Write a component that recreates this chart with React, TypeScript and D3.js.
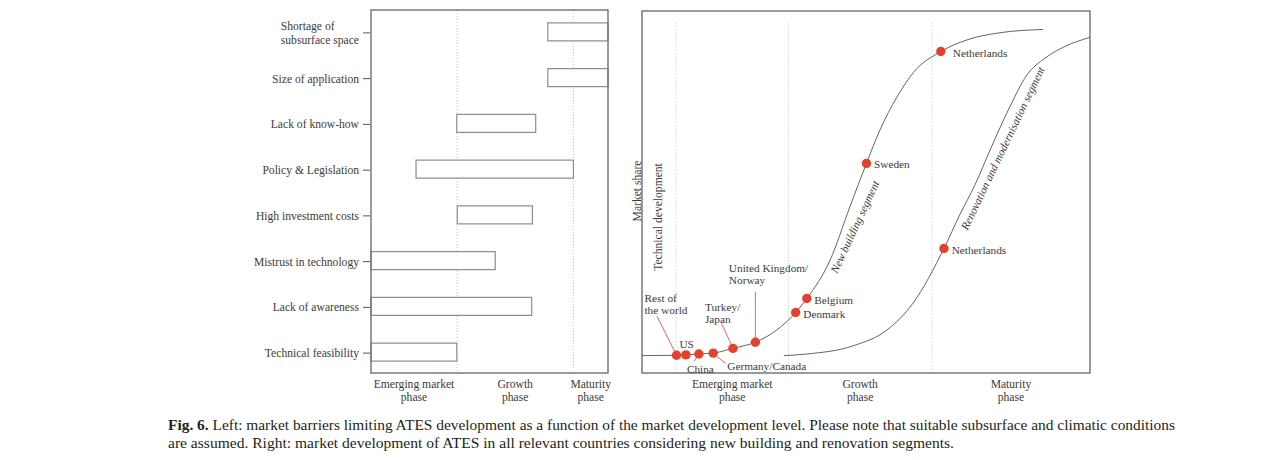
import { useEffect, useRef } from 'react';
import * as d3 from 'd3';

// Left panel: market barriers over the market development level (0-100)
const barriers = [
    'Shortage of\nsubsurface space',
    'Size of application',
    'Lack of know-how',
    'Policy & Legislation',
    'High investment costs',
    'Mistrust in technology',
    'Lack of awareness',
    'Technical feasibility'
];
const barrierFrom = [74.6, 74.6, 36.2, 19.0, 36.4, 0, 0, 0];
const barrierTo = [100, 100, 69.5, 85.4, 68.1, 52.4, 67.8, 36.2];

const barrierPhaseEdges = [0, 36.3, 85.4, 100];
const phaseNames = ['Emerging market\nphase', 'Growth\nphase', 'Maturity\nphase'];

// Right panel: market share over market development (0-100)
// technical development runs up to the first edge
const marketPhaseEdges = [7.6, 32.7, 64.7, 100];

const newBuildingX = [0, 7.7, 9.8, 12.7, 15.9, 20.3, 25.3, 30.1, 34.3, 36.8, 42.0, 46.4, 50.1, 53.1, 56.9, 60.5, 66.7, 72.5, 79.9, 89.5];
const newBuildingY = [4.8, 4.9, 5.0, 5.25, 5.5, 6.8, 8.5, 11.9, 16.7, 20.6, 31.2, 45.9, 57.9, 67.1, 76.2, 82.9, 88.8, 92.0, 94.0, 94.9];

const renovationX = [31.7, 36.8, 47.1, 54.7, 60.5, 67.4, 71.0, 74.3, 77.7, 82.1, 85.9, 90.0, 94.4, 100];
const renovationY = [4.8, 5.25, 7.5, 11.9, 19.3, 34.4, 43.9, 51.9, 61.6, 73.5, 82.3, 87.0, 90.2, 92.7];

const countries = [
    'Rest of\nthe world', 'US', 'China', 'Germany/Canada', 'Turkey/\nJapan',
    'United Kingdom/\nNorway', 'Denmark', 'Belgium', 'Sweden', 'Netherlands', 'Netherlands'
];
const countryX = [7.7, 9.8, 12.7, 15.9, 20.3, 25.3, 34.3, 36.8, 50.1, 66.7, 67.4];
const countryY = [4.9, 5.0, 5.25, 5.5, 6.8, 8.5, 16.7, 20.6, 57.9, 88.8, 34.4];

const captionLines = [
    'Left: market barriers limiting ATES development as a function of the market development level. Please note that suitable subsurface and climatic conditions',
    'are assumed. Right: market development of ATES in all relevant countries considering new building and renovation segments.'
];

export default function App() {
    const svgRef = useRef<SVGSVGElement>(null);

    useEffect(() => {
        if (!svgRef.current) return;
        const svg = d3.select(svgRef.current);
        svg.selectAll('*').remove();

        const serif = '"Liberation Serif", "Times New Roman", serif';
        const ink = '#3b3b3b';
        const frame = '#707070';
        const dotted = '#c4c4c4';
        const red = '#e2412d';
        const fs = 11.6;

        svg.append('rect').attr('width', 1264).attr('height', 460).attr('fill', '#fff');

        // writes "\n"-separated lines centred around y
        const multiline = (sel: any, text: string, x: number, y: number, lh: number) => {
            const lines = text.split('\n');
            lines.forEach((line, i) => {
                sel.append('tspan')
                    .attr('x', x)
                    .attr('y', y + (i - (lines.length - 1) / 2) * lh)
                    .text(line);
            });
            return sel;
        };

        // ---------- left panel ----------
        const lx = d3.scaleLinear().domain([0, 100]).range([371, 608]);
        const ly = d3.scaleBand<string>()
            .domain(barriers)
            .range([9, 375])
            .paddingInner(0.6066)
            .paddingOuter(0.3033);

        const left = svg.append('g');

        left.selectAll('.phase-line')
            .data(barrierPhaseEdges.slice(1, -1))
            .enter()
            .append('line')
            .attr('x1', d => lx(d)).attr('x2', d => lx(d))
            .attr('y1', 10).attr('y2', 373)
            .attr('stroke', dotted)
            .attr('stroke-dasharray', '1,2');

        left.selectAll('.bar')
            .data(barriers)
            .enter()
            .append('rect')
            .attr('x', (_, i) => lx(barrierFrom[i]))
            .attr('y', d => ly(d) || 0)
            .attr('width', (_, i) => lx(barrierTo[i]) - lx(barrierFrom[i]))
            .attr('height', ly.bandwidth())
            .attr('fill', '#fff')
            .attr('stroke', '#8c8c8c')
            .attr('stroke-width', 1.2);

        left.append('rect')
            .attr('x', 371).attr('y', 10)
            .attr('width', 237).attr('height', 363)
            .attr('fill', 'none')
            .attr('stroke', frame)
            .attr('stroke-width', 1.4);

        barriers.forEach(name => {
            const cy = (ly(name) || 0) + ly.bandwidth() / 2 + 1;
            left.append('line')
                .attr('x1', 363).attr('x2', 370)
                .attr('y1', cy).attr('y2', cy)
                .attr('stroke', '#555');
            const t = left.append('text')
                .attr('font-family', serif)
                .attr('font-size', fs)
                .attr('fill', ink)
                .attr('text-anchor', 'end')
                .attr('dominant-baseline', 'central');
            multiline(t, name, 359, cy, 13.5);
            const spans = t.selectAll('tspan').nodes() as SVGTSpanElement[];
            if (spans.length > 1) {
                const widest = d3.max(spans, s => s.getComputedTextLength()) || 0;
                t.attr('text-anchor', 'start');
                t.selectAll('tspan').attr('x', 359 - widest);
            }
        });

        phaseNames.forEach((name, i) => {
            const cx = lx((barrierPhaseEdges[i] + barrierPhaseEdges[i + 1]) / 2);
            const t = left.append('text')
                .attr('font-family', serif)
                .attr('font-size', fs)
                .attr('fill', ink)
                .attr('text-anchor', 'middle')
                .attr('dominant-baseline', 'central');
            multiline(t, name, cx, 390.5, 13);
        });

        // ---------- right panel ----------
        const rx = d3.scaleLinear().domain([0, 100]).range([642, 1090]);
        const ry = d3.scaleLinear().domain([0, 100]).range([373, 11]);

        const right = svg.append('g');

        right.selectAll('.phase-line')
            .data(marketPhaseEdges.slice(0, -1))
            .enter()
            .append('line')
            .attr('x1', d => rx(d)).attr('x2', d => rx(d))
            .attr('y1', ry(96.6)).attr('y2', 373)
            .attr('stroke', dotted)
            .attr('stroke-dasharray', '1,2');

        const line = d3.line<[number, number]>()
            .x(d => rx(d[0]))
            .y(d => ry(d[1]))
            .curve(d3.curveMonotoneX);

        right.append('path')
            .attr('d', line(newBuildingX.map((x, i) => [x, newBuildingY[i]]) as [number, number][]))
            .attr('fill', 'none')
            .attr('stroke', '#646464')
            .attr('stroke-width', 1);

        right.append('path')
            .attr('d', line(renovationX.map((x, i) => [x, renovationY[i]]) as [number, number][]))
            .attr('fill', 'none')
            .attr('stroke', '#646464')
            .attr('stroke-width', 1);

        right.append('rect')
            .attr('x', 642).attr('y', 11)
            .attr('width', 448).attr('height', 362)
            .attr('fill', 'none')
            .attr('stroke', frame)
            .attr('stroke-width', 1.4);

        // label placement around each dot, in px: text start, first-line centre, optional leader
        const placement: { dx: number; dy: number; leader?: [number, number, number, number] }[] = [
            { dx: -32, dy: -57.5, leader: [-19.5, -39, -1.5, -3] },
            { dx: -6.5, dy: -11 },
            { dx: -12, dy: 15, leader: [-1.5, 2.5, -5, 7.5] },
            { dx: 14, dy: 13, leader: [2, 2, 12, 10] },
            { dx: -28, dy: -41.5, leader: [-11.5, -25, -1.5, -3.5] },
            { dx: -26.5, dy: -74, leader: [0, -50.5, 0, -4] },
            { dx: 7.6, dy: 1.3 },
            { dx: 7.3, dy: 1.5 },
            { dx: 7.5, dy: 1 },
            { dx: 12, dy: 1.5 },
            { dx: 7.7, dy: 1.5 }
        ];

        countries.forEach((name, i) => {
            const px = rx(countryX[i]);
            const py = ry(countryY[i]);
            const p = placement[i];
            if (p.leader) {
                right.append('line')
                    .attr('x1', px + p.leader[0]).attr('y1', py + p.leader[1])
                    .attr('x2', px + p.leader[2]).attr('y2', py + p.leader[3])
                    .attr('stroke', red)
                    .attr('stroke-width', 0.8);
            }
            const lines = name.split('\n');
            const t = right.append('text')
                .attr('font-family', serif)
                .attr('font-size', 11.3)
                .attr('fill', ink)
                .attr('dominant-baseline', 'central');
            lines.forEach((ln, j) => {
                t.append('tspan')
                    .attr('x', px + p.dx)
                    .attr('y', py + p.dy + j * 12)
                    .text(ln);
            });
        });

        right.selectAll('.country')
            .data(countries)
            .enter()
            .append('circle')
            .attr('cx', (_, i) => rx(countryX[i]))
            .attr('cy', (_, i) => ry(countryY[i]))
            .attr('r', 4.7)
            .attr('fill', red);

        // segment names written along the curves
        const segmentLabels = [
            { text: 'New building segment', x: 47.5, y: 40.4, angle: -65 },
            { text: 'Renovation and modernisation segment', x: 80.5, y: 62.1, angle: -64.4 }
        ];
        segmentLabels.forEach(s => {
            right.append('text')
                .attr('transform', `translate(${rx(s.x)},${ry(s.y)}) rotate(${s.angle})`)
                .attr('font-family', serif)
                .attr('font-size', 11.3)
                .attr('font-style', 'italic')
                .attr('fill', ink)
                .attr('text-anchor', 'middle')
                .attr('dominant-baseline', 'central')
                .text(s.text);
        });

        right.append('text')
            .attr('transform', 'translate(637,191) rotate(-90)')
            .attr('font-family', serif)
            .attr('font-size', fs)
            .attr('fill', ink)
            .attr('text-anchor', 'middle')
            .attr('dominant-baseline', 'central')
            .text('Market share');

        right.append('text')
            .attr('transform', 'translate(658.5,217) rotate(-90)')
            .attr('font-family', serif)
            .attr('font-size', fs)
            .attr('fill', ink)
            .attr('text-anchor', 'middle')
            .attr('dominant-baseline', 'central')
            .text('Technical development');

        phaseNames.forEach((name, i) => {
            const cx = rx((marketPhaseEdges[i] + marketPhaseEdges[i + 1]) / 2);
            const t = right.append('text')
                .attr('font-family', serif)
                .attr('font-size', fs)
                .attr('fill', ink)
                .attr('text-anchor', 'middle')
                .attr('dominant-baseline', 'central');
            multiline(t, name, cx, 390, 13);
        });

        // ---------- caption ----------
        const cap1 = svg.append('text')
            .attr('x', 168).attr('y', 430)
            .attr('font-family', serif)
            .attr('font-size', 14)
            .attr('fill', '#231f20')
            .attr('textLength', 1007)
            .attr('lengthAdjust', 'spacingAndGlyphs');
        cap1.append('tspan').attr('font-weight', 'bold').text('Fig. 6. ');
        cap1.append('tspan').text(captionLines[0]);

        svg.append('text')
            .attr('x', 168).attr('y', 448)
            .attr('font-family', serif)
            .attr('font-size', 14)
            .attr('fill', '#231f20')
            .attr('textLength', 786)
            .attr('lengthAdjust', 'spacingAndGlyphs')
            .text(captionLines[1]);
    }, []);

    return (
        <svg
            ref={svgRef}
            width={1264}
            height={460}
            style={{ position: 'absolute', left: 0, top: 0 }}
        />
    );
}
